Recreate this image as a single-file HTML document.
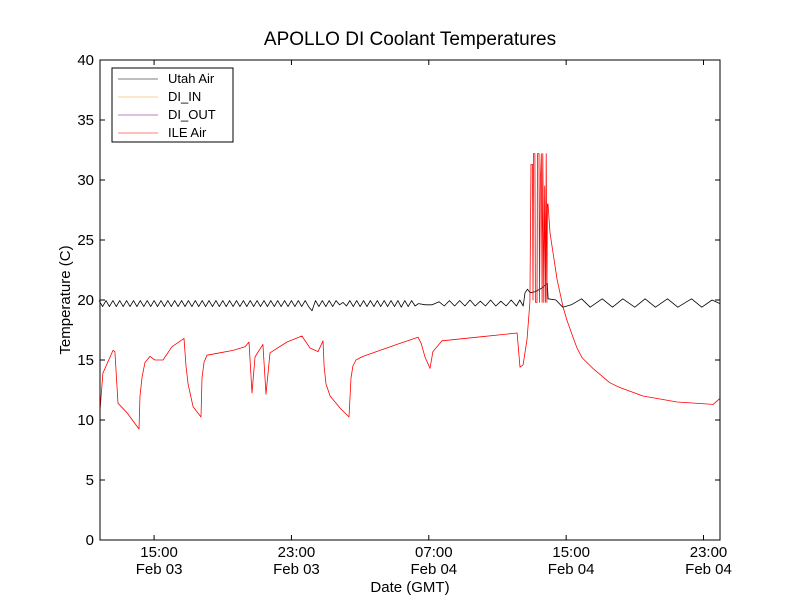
<!DOCTYPE html>
<html><head><meta charset="utf-8"><style>
html,body{margin:0;padding:0;background:#fff;}
svg{display:block;font-family:"Liberation Sans","DejaVu Sans",sans-serif;}
</style></head><body>
<svg id="chart" width="800" height="600" viewBox="0 0 800 600" xmlns="http://www.w3.org/2000/svg">
<rect x="0" y="0" width="800" height="600" fill="#fff"/>
<text x="410" y="45" font-size="19" text-anchor="middle">APOLLO DI Coolant Temperatures</text>
<g id="plot"></g>
<rect x="100" y="60" width="620" height="480" fill="none" stroke="#000" stroke-width="1"/>
<text x="410" y="592" font-size="15" text-anchor="middle">Date (GMT)</text>
<text transform="translate(70,300) rotate(-90)" font-size="15" text-anchor="middle">Temperature (C)</text>
<g>
<rect x="112" y="68" width="121" height="74" fill="#fff" stroke="#000" stroke-width="1"/>
<line x1="118" y1="79" x2="158" y2="79" stroke="#000" stroke-width="0.6"/>
<text x="168" y="83" font-size="13">Utah Air</text>
<line x1="118" y1="97" x2="158" y2="97" stroke="#f5a623" stroke-width="0.6"/>
<text x="168" y="101" font-size="13">DI_IN</text>
<line x1="118" y1="115" x2="158" y2="115" stroke="#800080" stroke-width="0.6"/>
<text x="168" y="119" font-size="13">DI_OUT</text>
<line x1="118" y1="133" x2="158" y2="133" stroke="#f00" stroke-width="0.6"/>
<text x="168" y="137" font-size="13">ILE Air</text>
</g>
</svg>
<script>
// hours since 00:00 Feb 03 (GMT)
const xTickHours = [15, 23, 31, 39, 47];
const xTickTimes = ["15:00","23:00","07:00","15:00","23:00"];
const xTickDates = ["Feb 03","Feb 03","Feb 04","Feb 04","Feb 04"];
const yTicks = [0,5,10,15,20,25,30,35,40];

const ileHours = [11.85,12.02,12.61,12.72,12.90,13.42,14.12,14.18,14.30,14.47,14.76,15.05,15.52,16.04,16.74,16.86,16.98,17.27,17.73,17.79,17.91,18.08,18.84,19.60,20.30,20.53,20.70,20.88,21.34,21.52,21.75,22.74,23.61,24.08,24.55,24.84,24.90,25.01,25.25,25.83,26.35,26.47,26.58,26.76,27.17,28.16,29.15,30.37,30.55,30.78,31.07,31.24,31.77,33.81,36.14,36.31,36.49,36.72,36.89,36.95,37.04,37.07,37.10,37.18,37.21,37.30,37.33,37.42,37.45,37.50,37.55,37.60,37.64,37.70,37.75,37.80,37.84,37.88,37.91,37.94,38.06,38.47,38.82,39.05,39.40,39.63,39.92,40.56,40.97,41.55,42.14,43.47,45.46,47.55,47.96];
const ileValues = [10.8,13.9,15.8,15.7,11.4,10.6,9.25,12.0,13.6,14.8,15.3,15.0,15.0,16.1,16.8,14.5,13.0,11.1,10.25,13.5,14.8,15.4,15.6,15.8,16.1,16.5,12.25,15.25,16.3,12.15,15.6,16.5,17.0,16.0,15.7,16.6,14.5,13.0,12.0,11.0,10.25,13.5,14.5,15.0,15.3,15.8,16.3,16.9,16.4,15.25,14.3,15.7,16.6,16.9,17.25,14.4,14.6,16.7,19.8,31.3,31.3,20.0,32.2,32.2,19.8,19.8,32.2,32.2,19.8,30.0,32.2,19.8,32.2,19.8,29.5,19.8,32.2,19.8,28.0,28.0,25.6,21.7,19.4,18.3,16.9,16.0,15.2,14.3,13.8,13.1,12.7,12.0,11.5,11.3,11.8];

const utahHours = [11.8,12.0,12.2,12.4,12.6,12.8,13.0,13.2,13.4,13.6,13.8,14.0,14.2,14.4,14.6,14.8,15.0,15.2,15.4,15.6,15.8,16.0,16.2,16.4,16.6,16.8,17.0,17.2,17.4,17.6,17.8,18.0,18.2,18.4,18.6,18.8,19.0,19.2,19.4,19.6,19.8,20.0,20.2,20.4,20.6,20.8,21.0,21.2,21.4,21.6,21.8,22.0,22.2,22.4,22.6,22.8,23.0,23.2,23.4,23.6,23.8,24.0,24.2,24.4,24.6,24.8,25.0,25.2,25.4,25.6,25.8,26.0,26.2,26.4,26.6,26.8,27.0,27.2,27.4,27.6,27.8,28.0,28.2,28.4,28.6,28.8,29.0,29.2,29.4,29.6,29.8,30.0,30.2,30.4,30.8,31.2,31.6,31.9,32.2,32.5,32.8,33.1,33.4,33.7,34.0,34.3,34.6,34.9,35.2,35.5,35.8,36.1,36.3,36.5,36.6,36.75,36.9,37.2,37.6,37.9,37.95,38.4,38.8,39.3,39.9,40.4,41.1,41.7,42.3,43.0,43.6,44.2,44.9,45.5,46.3,46.9,47.5,47.96];
const utahValues = [19.95,19.45,19.95,19.45,19.95,19.45,19.95,19.45,19.95,19.45,19.95,19.45,19.95,19.45,19.95,19.45,19.95,19.45,19.95,19.45,19.95,19.45,19.95,19.45,19.95,19.45,19.95,19.45,19.95,19.45,19.95,19.45,19.95,19.45,19.95,19.45,19.95,19.45,19.95,19.45,19.95,19.45,19.95,19.45,19.95,19.45,19.95,19.45,19.95,19.45,19.95,19.45,19.95,19.45,19.95,19.45,19.95,19.45,19.95,19.45,19.95,19.45,19.1,19.95,19.45,19.95,19.45,19.95,19.45,19.95,19.6,19.8,19.5,19.95,19.45,19.95,19.45,19.95,19.45,19.95,19.45,19.95,19.45,19.95,19.45,19.95,19.45,19.95,19.4,19.95,19.45,19.95,19.5,19.7,19.6,19.6,19.85,19.5,19.95,19.5,19.95,19.5,20.0,19.5,19.9,19.5,20.0,19.5,19.9,19.5,20.0,19.5,20.0,19.5,20.6,20.9,20.6,20.7,21.0,21.4,20.1,20.0,19.4,19.6,20.1,19.4,20.1,19.4,20.1,19.4,20.1,19.4,20.1,19.4,20.1,19.4,20.0,19.7];

const X0 = 100, X1 = 720, Y0 = 540, Y1 = 60;
const H0 = 11.85, H1 = 47.96;
function xScale(h){ return X0 + (h - H0) / (H1 - H0) * (X1 - X0); }
function yScale(v){ return Y0 - v / 40 * (Y0 - Y1); }

const NS = "http://www.w3.org/2000/svg";
const plot = document.getElementById("plot");
function mk(tag, attrs){ const e = document.createElementNS(NS, tag); for (const k in attrs) e.setAttribute(k, attrs[k]); return e; }

yTicks.forEach(v => {
  const y = yScale(v);
  const g = mk("g", {});
  
  
  g.appendChild(mk("line", {x1: X0, y1: y, x2: X0 + 5, y2: y, stroke: "#000"}));
  g.appendChild(mk("line", {x1: X1, y1: y, x2: X1 - 5, y2: y, stroke: "#000"}));
  const t = mk("text", {x: X0 - 6, y: y + 5, "font-size": 15, "text-anchor": "end"});
  t.textContent = v;
  g.appendChild(t);
  plot.appendChild(g);
});

xTickHours.forEach((h, i) => {
  const x = xScale(h);
  const g = mk("g", {});
  
  
  g.appendChild(mk("line", {x1: x, y1: Y0, x2: x, y2: Y0 - 5, stroke: "#000"}));
  g.appendChild(mk("line", {x1: x, y1: Y1, x2: x, y2: Y1 + 5, stroke: "#000"}));
  const t1 = mk("text", {x: x + 5, y: Y0 + 17, "font-size": 15, "text-anchor": "middle"});
  t1.textContent = xTickTimes[i];
  const t2 = mk("text", {x: x + 5, y: Y0 + 34, "font-size": 15, "text-anchor": "middle"});
  t2.textContent = xTickDates[i];
  g.appendChild(t1); g.appendChild(t2);
  plot.appendChild(g);
});

function line(hours, vals, color, name){
  const pts = hours.map((h, i) => xScale(h).toFixed(1) + "," + yScale(vals[i]).toFixed(1)).join(" ");
  const p = mk("polyline", {points: pts, fill: "none", stroke: color, "stroke-width": 0.8, "stroke-linejoin": "round"});
  
  
  plot.appendChild(p);
}
line(utahHours, utahValues, "#000", "utah-air-line");
line(ileHours, ileValues, "#f00", "ile-air-line");
</script>
</body></html>
